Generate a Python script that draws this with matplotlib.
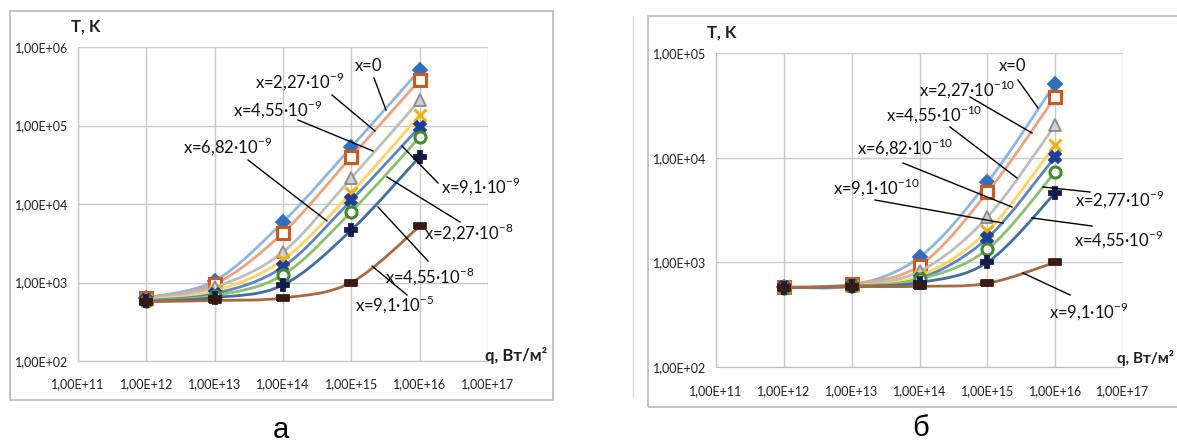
import numpy as np
import matplotlib
matplotlib.use("Agg")
import matplotlib.pyplot as plt
from matplotlib.path import Path
from matplotlib.patches import PathPatch, Rectangle
from matplotlib.lines import Line2D
from matplotlib.ticker import FuncFormatter, FixedLocator, NullLocator

plt.rcParams['font.family'] = ['Lato', 'Open Sans', 'DejaVu Sans']
plt.rcParams['mathtext.fontset'] = 'custom'
plt.rcParams['mathtext.rm'] = 'Lato'

W, H = 1177, 443

# q, W/m2 -- same points in both panels
q = [1e12, 1e13, 1e14, 1e15, 1e16]

# panel a: T, K
labels_a = ['x=0', r'x=2,27·10$^{\mathregular{-9}}$', r'x=4,55·10$^{\mathregular{-9}}$',
            r'x=6,82·10$^{\mathregular{-9}}$', r'x=9,1·10$^{\mathregular{-9}}$',
            r'x=2,27·10$^{\mathregular{-8}}$', r'x=4,55·10$^{\mathregular{-8}}$',
            r'x=9,1·10$^{\mathregular{-5}}$']
T_a = [
    [640, 1050, 5900, 53000, 510000],
    [630, 950, 4300, 40000, 380000],
    [610, 870, 2450, 21500, 210000],
    [600, 780, 1950, 14000, 135000],
    [590, 720, 1580, 11200, 96000],
    [580, 680, 1250, 8000, 71000],
    [575, 640, 930, 4650, 40000],
    [570, 590, 635, 1000, 5200],
]

# panel b: T, K
labels_b = ['x=0', r'x=2,27·10$^{\mathregular{-10}}$', r'x=4,55·10$^{\mathregular{-10}}$',
            r'x=6,82·10$^{\mathregular{-10}}$', r'x=9,1·10$^{\mathregular{-10}}$',
            r'x=2,77·10$^{\mathregular{-9}}$', r'x=4,55·10$^{\mathregular{-9}}$',
            r'x=9,1·10$^{\mathregular{-9}}$']
T_b = [
    [580, 600, 1120, 5800, 51000],
    [580, 620, 930, 4650, 38000],
    [578, 600, 820, 2700, 20500],
    [576, 595, 740, 1980, 13200],
    [575, 592, 700, 1700, 10200],
    [574, 590, 690, 1330, 7300],
    [572, 588, 640, 1000, 4600],
    [570, 585, 590, 630, 1000],
]

line_colors = ['#8DB6E0', '#F0A27A', '#BDBDBD', '#FFD35C', '#5A84CC', '#8CC06C', '#3E6F9E', '#A8693C']
mk_colors = ['#2F6FC0', '#D0581A', '#8A8A8A', '#F2B000', '#1F3E99', '#3E8C2A', '#141C4C', '#3A1A10']
dash = [(-1.0, -0.45), (1.0, -0.45), (1.0, 0.45), (-1.0, 0.45), (-1.0, -0.45)]
markers = ['D', 's', '^', 'x', 'X', 'o', 'P', dash]
mk_size = [7, 8, 8, 8, 8, 8, 8, 9]
mk_face = ['#2F6FC0', 'white', '#D0D0D0', '#F2B000', '#1F3E99', 'white', '#141C4C', '#3A1A10']


def smooth_path(xs, ys, t=1/6):
    # Excel-like smoothing: bezier through the points in log-log space
    lx = np.log10(xs)
    ly = np.log10(ys)
    n = len(lx)
    P = np.column_stack([lx, ly])
    verts = [P[0]]
    codes = [Path.MOVETO]
    for i in range(n - 1):
        p0 = P[i - 1] if i > 0 else P[i]
        p3 = P[i + 2] if i + 2 < n else P[i + 1]
        c1 = P[i] + (P[i + 1] - p0) * t
        c2 = P[i + 1] - (p3 - P[i]) * t
        verts += [c1, c2, P[i + 1]]
        codes += [Path.CURVE4] * 3
    verts = 10 ** np.array(verts)
    return Path(verts, codes)


def fmt(v, pos):
    return "1,00E+%02d" % int(round(np.log10(v)))


def fig_line(fig, x0, y0, x1, y1, color='black'):
    fig.add_artist(Line2D([x0 / W, x1 / W], [1 - y0 / H, 1 - y1 / H],
                          transform=fig.transFigure, color=color, lw=1.0))


def fig_text(fig, x, y, s, **kw):
    fig.text(x / W, 1 - y / H, s, **kw)


def panel(fig, rect, T, ymax, xpad, ypad):
    ax = fig.add_axes(rect)
    ax.set_xscale('log')
    ax.set_yscale('log')
    ax.set_xlim(1e11, 1e17)
    ax.set_ylim(1e2, ymax)
    for i, Ts in enumerate(T):
        ax.add_patch(PathPatch(smooth_path(q, Ts), fill=False, ec=line_colors[i],
                               lw=2.0, zorder=3 + i * 0.1, capstyle='round'))
        ax.plot(q, Ts, ls='none', marker=markers[i], ms=mk_size[i], mfc=mk_face[i],
                mec=mk_colors[i], mew=2.2 if i in (1, 3, 5) else 1.3, zorder=3.05 + i * 0.1,
                clip_on=False)
    ax.xaxis.set_major_locator(FixedLocator([10.0 ** k for k in range(11, 18)]))
    ax.yaxis.set_major_locator(FixedLocator([10.0 ** k for k in range(2, int(np.log10(ymax)) + 1)]))
    ax.xaxis.set_minor_locator(NullLocator())
    ax.yaxis.set_minor_locator(NullLocator())
    ax.xaxis.set_major_formatter(FuncFormatter(fmt))
    ax.yaxis.set_major_formatter(FuncFormatter(fmt))
    ax.tick_params(length=0, labelsize=9, colors='#202020')
    ax.tick_params(axis='x', pad=xpad)
    ax.tick_params(axis='y', pad=ypad)
    ax.grid(True, color='#C9C9C9', lw=1.0)
    ax.set_axisbelow(True)
    for s in ax.spines.values():
        s.set_visible(False)
    ax.spines['left'].set_visible(True)
    ax.spines['bottom'].set_visible(True)
    ax.spines['left'].set_color('#C0C0C0')
    ax.spines['bottom'].set_color('#C0C0C0')
    return ax


fig = plt.figure(figsize=(W / 100, H / 100), dpi=100)

# chart frames
fig.add_artist(Rectangle((10 / W, 1 - 400 / H), 543 / W, 389 / H, transform=fig.transFigure,
                         fill=False, ec='#BDBDBD', lw=1.3))
fig.add_artist(Rectangle((648 / W, 1 - 407 / H), 540 / W, 391 / H, transform=fig.transFigure,
                         fill=False, ec='#BDBDBD', lw=1.3))
fig_line(fig, 633, 16, 633, 397, color='#D8D8D8')

ax_a = panel(fig, [78 / W, 1 - 361 / H, 410 / W, 314 / H], T_a, 1e6, 12, 7)
ax_b = panel(fig, [716 / W, 1 - 367 / H, 407 / W, 314 / H], T_b, 1e5, 13, 7)

# axis titles
tkw = dict(fontsize=12, fontweight='bold', color='#202020', va='center')
fig_text(fig, 71, 27, 'T, K', ha='left', **tkw)
fig_text(fig, 485, 355, 'q, Вт/м²', ha='left', **tkw)
fig_text(fig, 707, 33, 'T, K', ha='left', **tkw)
fig_text(fig, 1174, 358, 'q, Вт/м²', ha='right', fontsize=11, fontweight='bold',
         color='#202020', va='center')

# captions
fig_text(fig, 281, 430, 'а', ha='center', va='center', fontsize=21, family='Liberation Sans')
fig_text(fig, 921, 428, 'б', ha='center', va='center', fontsize=21, family='Liberation Sans')

# series labels, panel a: (text centre, leader start, leader end)
ann_a = [
    ((369, 66), (374, 78), (386, 110)),
    ((300, 81), (332, 95), (375, 131)),
    ((278, 109), (298, 120), (373, 151)),
    ((228, 146), (248, 160), (327, 221)),
    ((481, 186), (438, 183), (402, 146)),
    ((469, 232), (460, 222), (387, 177)),
    ((430, 276), (428, 261), (378, 207)),
    ((395, 304), (407, 295), (372, 266)),
]
for s, (tc, p0, p1) in zip(labels_a, ann_a):
    fig_text(fig, tc[0], tc[1], s, ha='center', va='center', fontsize=12, color='#101010')
    fig_line(fig, p0[0], p0[1], p1[0], p1[1])

ann_b = [
    ((1013, 66), (1018, 80), (1038, 108)),
    ((967, 89), (970, 97), (1032, 133)),
    ((934, 114), (950, 127), (1017, 178)),
    ((905, 147), (903, 163), (1012, 207)),
    ((876, 187), (875, 200), (1003, 223)),
    ((1120, 199), (1090, 192), (1043, 187)),
    ((1119, 239), (1092, 226), (1032, 218)),
    ((1089, 311), (1070, 295), (1023, 273)),
]
for s, (tc, p0, p1) in zip(labels_b, ann_b):
    fig_text(fig, tc[0], tc[1], s, ha='center', va='center', fontsize=12, color='#101010')
    fig_line(fig, p0[0], p0[1], p1[0], p1[1])

fig.savefig('out.png', dpi=100)
